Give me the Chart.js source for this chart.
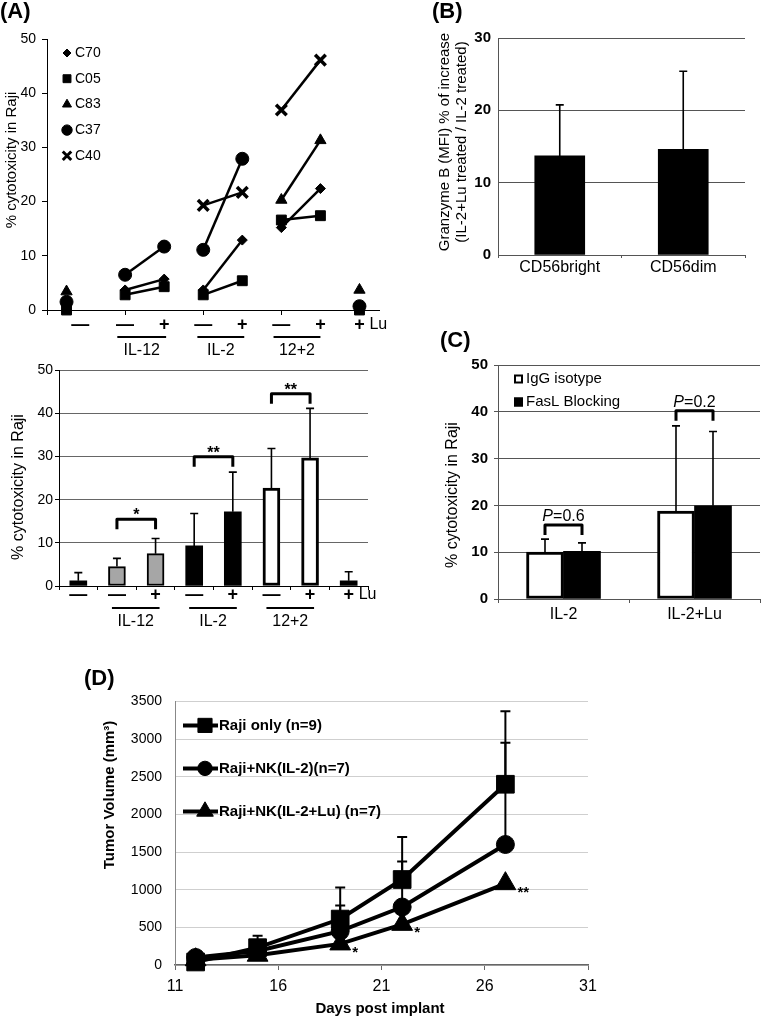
<!DOCTYPE html>
<html>
<head>
<meta charset="utf-8">
<title>NK cytotoxicity against Raji</title>
<script src="https://cdn.jsdelivr.net/npm/chart.js@4.4.1/dist/chart.umd.min.js"></script>
<style>
  body { margin:0; width:761px; height:1018px; position:relative; background:#fff; overflow:hidden;
         font-family:"Liberation Sans", Arial, sans-serif; color:#000; }
  canvas { position:absolute; }
  .pl { position:absolute; font-weight:bold; font-size:22px; line-height:22px; }
  .yt { position:absolute; white-space:nowrap; text-align:center; transform:translate(-50%,-50%) rotate(-90deg); }
</style>
</head>
<body>
<canvas id="cA1" width="390" height="360" style="left:0;top:0"></canvas>
<canvas id="cA2" width="390" height="300" style="left:0;top:360px"></canvas>
<canvas id="cB" width="371" height="290" style="left:390px;top:0"></canvas>
<canvas id="cC" width="371" height="340" style="left:390px;top:290px"></canvas>
<canvas id="cD" width="520" height="338" style="left:90px;top:680px"></canvas>

<div class="pl" style="left:0;top:0">(A)</div>
<div class="pl" style="left:432px;top:0">(B)</div>
<div class="pl" style="left:440px;top:329px">(C)</div>
<div class="pl" style="left:84px;top:667px">(D)</div>

<div class="yt" style="left:10px;top:160px;font-size:15px">% cytotoxicity in Raji</div>
<div class="yt" style="left:18px;top:487px;font-size:16px">% cytotoxicity in Raji</div>
<div class="yt" style="left:452px;top:142px;font-size:15px;line-height:17px">Granzyme B (MFI) % of increase<br>(IL-2+Lu treated / IL-2 treated)</div>
<div class="yt" style="left:452px;top:495px;font-size:16px">% cytotoxicity in Raji</div>
<div class="yt" style="left:108px;top:795px;font-size:15px;font-weight:bold">Tumor Volume (mm³)</div>
<div style="position:absolute;left:280px;top:999px;width:200px;text-align:center;font-size:15px;font-weight:bold">Days post implant</div>

<script>
// ---- (A) top: single donors ----
const aTopX = [0.5, 2, 3, 4, 5, 6, 7, 8];
const aTopC70 = [null, 3.7, 5.7, 3.7, 12.9, 15.2, 22.4, null];
const aTopC05 = [0, 2.8, 4.3, 2.8, 5.4, 16.6, 17.4, 0];
const aTopC83 = [3.4, null, null, null, null, 20.3, 31.3, 3.7];
const aTopC37 = [1.5, 6.5, 11.7, 11.1, 27.9, null, null, 0.7];
const aTopC40 = [null, null, null, 19.3, 21.7, 36.9, 46.1, null];
const aTopNames = ['C70', 'C05', 'C83', 'C37', 'C40'];
const aSigns = ['—', '—', '+', '—', '+', '—', '+', '+'];
const aTopSignX = [0.85, 2, 3, 4, 5, 6, 7, 8];
const aGroups = ['IL-12', 'IL-2', '12+2'];
const aTopGroupX = [[1.8, 3.05], [3.85, 5.05], [5.8, 7.0]];

// ---- (A) bottom: means ----
const aBotCats = ['none', 'IL-12 -', 'IL-12 +', 'IL-2 -', 'IL-2 +', '12+2 -', '12+2 +', 'Lu'];
const aBotMean = [1.2, 4.5, 7.5, 9.3, 17.2, 22.7, 29.7, 1.2];
const aBotErr = [3.1, 6.4, 11.0, 16.8, 26.4, 31.9, 41.2, 3.3];
const aBotSig = [[1, 2, 15.5, '*'], [3, 4, 30.0, '**'], [5, 6, 44.6, '**']];
const aGroupBars = [[1, 2], [3, 4], [5, 6]];

// ---- (B) ----
const bCats = ['CD56bright', 'CD56dim'];
const bMean = [13.7, 14.6];
const bErr = [20.75, 25.4];

// ---- (C) ----
const cCats = ['IL-2', 'IL-2+Lu'];
const cIgG = [10.0, 18.8];
const cIgGErr = [12.8, 37.0];
const cFasL = [10.2, 19.9];
const cFasLErr = [12.0, 35.8];
const cP = ['0.6', '0.2'];
const cBracket = [15.8, 40.2];

// ---- (D) ----
const dDays = [12, 15, 19, 22, 27];
const dRaji = [40, 230, 610, 1135, 2400];
const dRajiErr = [null, 390, 1030, 1700, 3370];
const dNK2 = [100, 185, 450, 770, 1600];
const dNK2Err = [null, null, 790, 1375, 2950];
const dNKLu = [70, 130, 280, 540, 1080];
const dStars = ['', '', '*', '*', '**'];

const FF = '"Liberation Sans", Arial, sans-serif';
Chart.defaults.font.family = FF;
Chart.defaults.color = '#000';
Chart.defaults.animation = false;
Chart.defaults.responsive = false;
Chart.defaults.maintainAspectRatio = false;
Chart.defaults.events = [];
Chart.defaults.plugins.legend.display = false;
Chart.defaults.plugins.tooltip.enabled = false;

function drawText(ctx, s, x, y, font, align, base) {
  ctx.save();
  ctx.font = font; ctx.fillStyle = '#000';
  ctx.textAlign = align || 'center'; ctx.textBaseline = base || 'middle';
  ctx.fillText(s, x, y);
  ctx.restore();
}
function drawLine(ctx, x0, y0, x1, y1, lw) {
  ctx.save(); ctx.strokeStyle = '#000'; ctx.lineWidth = lw;
  ctx.beginPath(); ctx.moveTo(x0, y0); ctx.lineTo(x1, y1); ctx.stroke(); ctx.restore();
}
function drawErr(ctx, x, yFrom, yTo, cap, lw) {
  ctx.save(); ctx.strokeStyle = '#000'; ctx.lineWidth = lw;
  ctx.beginPath();
  ctx.moveTo(x, yFrom); ctx.lineTo(x, yTo);
  ctx.moveTo(x - cap / 2, yTo); ctx.lineTo(x + cap / 2, yTo);
  ctx.stroke(); ctx.restore();
}
function drawBracket(ctx, x0, x1, yTop, leg, lw) {
  ctx.save(); ctx.strokeStyle = '#000'; ctx.lineWidth = lw; ctx.lineJoin = 'round'; ctx.lineCap = 'butt';
  ctx.beginPath();
  ctx.moveTo(x0, yTop + leg); ctx.lineTo(x0, yTop); ctx.lineTo(x1, yTop); ctx.lineTo(x1, yTop + leg);
  ctx.stroke(); ctx.restore();
}
function drawMarker(ctx, style, r, x, y, bw) {
  ctx.save(); ctx.fillStyle = '#000'; ctx.strokeStyle = '#000'; ctx.lineWidth = bw;
  Chart.helpers.drawPoint(ctx, {pointStyle: style, radius: r, rotation: 0, borderWidth: bw}, x, y);
  ctx.restore();
}

// ================= (A) top =================
const aTopSeries = [aTopC70, aTopC05, aTopC83, aTopC37, aTopC40];
const aTopStyle = ['rectRot', 'rect', 'triangle', 'circle', 'crossRot'];
const aTopRadius = [5, 7, 6.5, 6.5, 7.5];
const pairStarts = [1, 3, 5];

new Chart('cA1', {
  type: 'scatter',
  data: {
    datasets: aTopSeries.map((vals, k) => ({
      label: aTopNames[k],
      data: aTopX.map((x, i) => ({x: x, y: vals[i]})),
      showLine: true,
      spanGaps: false,
      clip: false,
      borderColor: '#000',
      borderWidth: 2.5,
      segment: { borderColor: c => pairStarts.includes(c.p0DataIndex) ? '#000' : 'rgba(0,0,0,0)' },
      pointStyle: aTopStyle[k],
      pointRadius: aTopRadius[k],
      pointBackgroundColor: '#000',
      pointBorderColor: '#000',
      pointBorderWidth: k === 4 ? 3.5 : 1
    }))
  },
  options: {
    layout: { padding: { left: 0, top: 39, right: 7, bottom: 40 } },
    scales: {
      x: {
        type: 'linear', min: 0, max: 8.5,
        afterFit: s => { s.height = 10; },
        ticks: { display: false, stepSize: 2, includeBounds: false },
        grid: { drawOnChartArea: false, tickLength: 5, color: '#000' },
        border: { color: '#000' }
      },
      y: {
        min: 0, max: 50,
        afterFit: s => { s.width = 47; },
        ticks: { stepSize: 10, padding: 6, font: { size: 14 } },
        grid: { drawOnChartArea: false, tickLength: 5, color: '#000' },
        border: { color: '#000' }
      }
    }
  },
  plugins: [{
    id: 'aTopExtras',
    afterDraw(chart) {
      const {ctx, chartArea: ca, scales: {x}} = chart;
      aSigns.forEach((s, i) => drawText(ctx, s, x.getPixelForValue(aTopSignX[i]), ca.bottom + 15, 'bold 18px ' + FF));
      drawText(ctx, 'Lu', x.getPixelForValue(8) + 10, ca.bottom + 15, '16px ' + FF, 'left');
      aGroups.forEach((g, k) => {
        const x0 = x.getPixelForValue(aTopGroupX[k][0]), x1 = x.getPixelForValue(aTopGroupX[k][1]);
        drawLine(ctx, x0, ca.bottom + 27, x1, ca.bottom + 27, 2);
        drawText(ctx, g, (x0 + x1) / 2, ca.bottom + 41, '16px ' + FF);
      });
      chart.data.datasets.forEach((ds, k) => {
        const yy = ca.top + 14 + k * 25.7;
        drawMarker(ctx, ds.pointStyle, k === 4 ? 6 : ds.pointRadius * 0.8, ca.left + 20, yy, k === 4 ? 3 : 1);
        drawText(ctx, ds.label, ca.left + 28, yy, '14px ' + FF, 'left');
      });
    }
  }]
});

// ================= (A) bottom =================
const aBotFill = ['#000', '#a6a6a6', '#a6a6a6', '#000', '#000', '#fff', '#fff', '#000'];
const aBotBorder = [0, 2, 2, 0, 0, 3, 3, 0];

new Chart('cA2', {
  type: 'bar',
  data: {
    labels: aBotCats,
    datasets: [{
      data: aBotMean,
      backgroundColor: aBotFill,
      borderColor: '#000',
      borderWidth: aBotBorder,
      borderSkipped: false,
      barThickness: 17
    }]
  },
  options: {
    layout: { padding: { left: 0, top: 9, right: 22, bottom: 69 } },
    scales: {
      x: {
        afterFit: s => { s.height = 5; },
        ticks: { display: false },
        grid: { drawOnChartArea: false, tickLength: 4, color: '#000' },
        border: { color: '#000' }
      },
      y: {
        min: 0, max: 50,
        afterFit: s => { s.width = 59; },
        ticks: { stepSize: 10, padding: 2, font: { size: 14 } },
        grid: { color: '#666', tickColor: '#000', tickLength: 4 },
        border: { color: '#000' }
      }
    }
  },
  plugins: [{
    id: 'aBotExtras',
    afterDraw(chart) {
      const {ctx, chartArea: ca, scales: {y}} = chart;
      const bars = chart.getDatasetMeta(0).data;
      aBotErr.forEach((e, i) => drawErr(ctx, bars[i].x, y.getPixelForValue(aBotMean[i]), y.getPixelForValue(e), 8, 1.6));
      aBotSig.forEach(([a, b, v, s]) => {
        const yt = y.getPixelForValue(v);
        drawBracket(ctx, bars[a].x, bars[b].x, yt, 10, 3);
        drawText(ctx, s, (bars[a].x + bars[b].x) / 2, yt + 1, 'bold 16px ' + FF, 'center', 'alphabetic');
      });
      aSigns.forEach((s, i) => drawText(ctx, s, bars[i].x, ca.bottom + 9, 'bold 18px ' + FF));
      drawText(ctx, 'Lu', bars[7].x + 10, ca.bottom + 9, '16px ' + FF, 'left');
      aGroupBars.forEach(([a, b], k) => {
        const x0 = bars[a].x - 5, x1 = bars[b].x + 4;
        drawLine(ctx, x0, ca.bottom + 22, x1, ca.bottom + 22, 2);
        drawText(ctx, aGroups[k], (x0 + x1) / 2, ca.bottom + 36, '16px ' + FF);
      });
    }
  }]
});

// ================= (B) =================
new Chart('cB', {
  type: 'bar',
  data: { labels: bCats, datasets: [{ data: bMean, backgroundColor: '#000', barThickness: 50 }] },
  options: {
    layout: { padding: { left: 0, top: 38, right: 16, bottom: 5 } },
    scales: {
      x: {
        afterFit: s => { s.height = 30; },
        ticks: { font: { size: 16 }, padding: 0 },
        grid: { drawOnChartArea: false, tickLength: 3, color: '#555' },
        border: { color: '#555' }
      },
      y: {
        min: 0, max: 30,
        afterFit: s => { s.width = 108; },
        ticks: { stepSize: 10, padding: 7, font: { size: 15, weight: 'bold' } },
        grid: { color: '#555', drawTicks: false },
        border: { color: '#555' }
      }
    }
  },
  plugins: [{
    id: 'bErr',
    afterDraw(chart) {
      const {ctx, scales: {y}} = chart;
      const bars = chart.getDatasetMeta(0).data;
      bErr.forEach((e, i) => drawErr(ctx, bars[i].x, y.getPixelForValue(bMean[i]), y.getPixelForValue(e), 8, 1.6));
    }
  }]
});

// ================= (C) =================
new Chart('cC', {
  type: 'bar',
  data: {
    labels: cCats,
    datasets: [
      { label: 'IgG isotype', data: cIgG, backgroundColor: '#fff', borderColor: '#000', borderWidth: 3, borderSkipped: false, barThickness: 37 },
      { label: 'FasL Blocking', data: cFasL, backgroundColor: '#000', borderColor: '#000', borderWidth: 0, barThickness: 37 }
    ]
  },
  options: {
    layout: { padding: { left: 0, top: 75, right: 1, bottom: 6 } },
    scales: {
      x: {
        afterFit: s => { s.height = 25; },
        ticks: { font: { size: 16 }, padding: 2 },
        grid: { drawOnChartArea: false, tickLength: 4, color: '#555' },
        border: { color: '#555' }
      },
      y: {
        min: 0, max: 50,
        afterFit: s => { s.width = 108; },
        ticks: { stepSize: 10, padding: 6, font: { size: 15, weight: 'bold' } },
        grid: { color: '#555', tickLength: 4 },
        border: { color: '#555' }
      }
    }
  },
  plugins: [{
    id: 'cExtras',
    afterDraw(chart) {
      const {ctx, chartArea: ca, scales: {y}} = chart;
      const m0 = chart.getDatasetMeta(0).data, m1 = chart.getDatasetMeta(1).data;
      cIgGErr.forEach((e, i) => drawErr(ctx, m0[i].x, y.getPixelForValue(cIgG[i]), y.getPixelForValue(e), 8, 1.6));
      cFasLErr.forEach((e, i) => drawErr(ctx, m1[i].x, y.getPixelForValue(cFasL[i]), y.getPixelForValue(e), 8, 1.6));
      cBracket.forEach((v, i) => {
        const yt = y.getPixelForValue(v);
        drawBracket(ctx, m0[i].x, m1[i].x, yt, 10, 3);
        const cx = (m0[i].x + m1[i].x) / 2;
        ctx.save();
        ctx.font = 'italic 16px ' + FF; const w1 = ctx.measureText('P').width;
        ctx.font = '16px ' + FF; const w2 = ctx.measureText('=' + cP[i]).width;
        const x0 = cx - (w1 + w2) / 2;
        ctx.fillStyle = '#000'; ctx.textAlign = 'left'; ctx.textBaseline = 'alphabetic';
        ctx.font = 'italic 16px ' + FF; ctx.fillText('P', x0, yt - 4);
        ctx.font = '16px ' + FF; ctx.fillText('=' + cP[i], x0 + w1, yt - 4);
        ctx.restore();
      });
      chart.data.datasets.forEach((ds, k) => {
        const yy = ca.top + 14 + k * 23;
        ctx.save();
        ctx.fillStyle = ds.backgroundColor; ctx.fillRect(ca.left + 16, yy - 4.5, 9, 9);
        ctx.strokeStyle = '#000'; ctx.lineWidth = 2; ctx.strokeRect(ca.left + 17, yy - 3.5, 7, 7);
        ctx.restore();
        drawText(ctx, ds.label, ca.left + 28, yy, '15px ' + FF, 'left');
      });
    }
  }]
});

// ================= (D) =================
const dStyle = ['rect', 'circle', 'triangle'];
const dRadius = [12.5, 9, 12];
const dSeries = [dRaji, dNK2, dNKLu];
const dNames = ['Raji only (n=9)', 'Raji+NK(IL-2)(n=7)', 'Raji+NK(IL-2+Lu) (n=7)'];

new Chart('cD', {
  type: 'line',
  data: {
    datasets: dSeries.map((vals, k) => ({
      label: dNames[k],
      data: dDays.map((d, i) => ({x: d, y: vals[i]})),
      borderColor: '#000',
      borderWidth: 4,
      clip: false,
      pointStyle: dStyle[k],
      pointRadius: dRadius[k],
      pointBackgroundColor: '#000',
      pointBorderColor: '#000',
      pointBorderWidth: 1
    }))
  },
  options: {
    layout: { padding: { left: 0, top: 8, right: 22, bottom: 0 } },
    scales: {
      x: {
        type: 'linear', min: 11, max: 31,
        afterFit: s => { s.height = 53; },
        ticks: { stepSize: 5, padding: 7, font: { size: 16 } },
        grid: { drawOnChartArea: false, tickLength: 5, color: '#666' },
        border: { color: '#666', width: 1.5 }
      },
      y: {
        min: 0, max: 3500,
        afterFit: s => { s.width = 85; },
        ticks: { stepSize: 500, padding: 13, font: { size: 14 }, callback: v => String(v) },
        grid: { color: '#cfcfcf', drawTicks: false },
        border: { color: '#888' }
      }
    }
  },
  plugins: [{
    id: 'dExtras',
    afterDraw(chart) {
      const {ctx, chartArea: ca, scales: {y}} = chart;
      const m0 = chart.getDatasetMeta(0).data, m1 = chart.getDatasetMeta(1).data, m2 = chart.getDatasetMeta(2).data;
      dRajiErr.forEach((e, i) => { if (e !== null) drawErr(ctx, m0[i].x, y.getPixelForValue(dRaji[i]), y.getPixelForValue(e), 10, 2); });
      dNK2Err.forEach((e, i) => { if (e !== null) drawErr(ctx, m1[i].x, y.getPixelForValue(dNK2[i]), y.getPixelForValue(e), 10, 2); });
      dStars.forEach((s, i) => { if (s) drawText(ctx, s, m2[i].x + 12, m2[i].y + 13, 'bold 15px ' + FF, 'left', 'alphabetic'); });
      chart.data.datasets.forEach((ds, k) => {
        const yy = ca.top + 24 + k * 43;
        drawLine(ctx, ca.left + 8, yy, ca.left + 43, yy, 4);
        drawMarker(ctx, ds.pointStyle, ds.pointRadius * 0.8, ca.left + 30, yy, 1);
        drawText(ctx, ds.label, ca.left + 44, yy, 'bold 15px ' + FF, 'left');
      });
    }
  }]
});
</script>
</body>
</html>
